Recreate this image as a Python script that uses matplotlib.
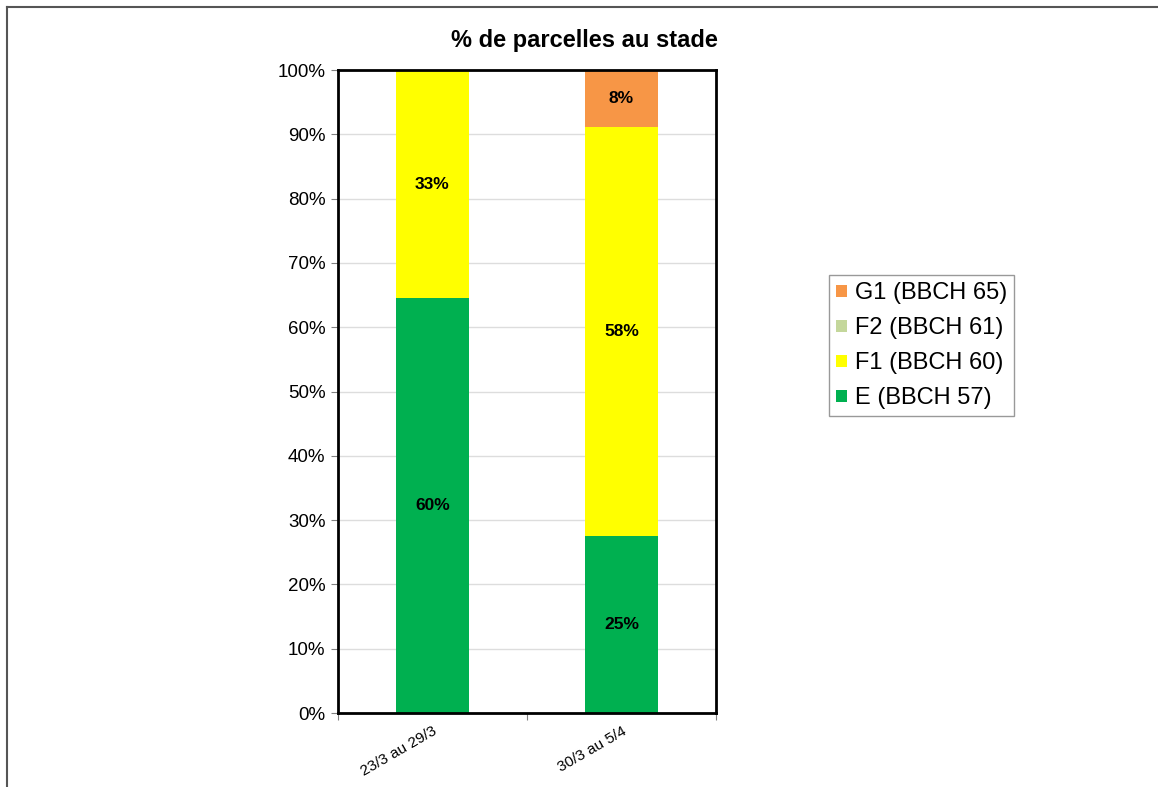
import matplotlib.pyplot as plt
import numpy as np
from matplotlib.lines import Line2D

plt.rcParams['font.family'] = ['Liberation Sans', 'DejaVu Sans']

periodes = ['23/3 au 29/3', '30/3 au 5/4']
stades = ['E (BBCH 57)', 'F1 (BBCH 60)', 'F2 (BBCH 61)', 'G1 (BBCH 65)']
couleurs = ['#00B050', '#FFFF00', '#C4D79B', '#F79646']
# valeurs affichees (%) par stade, pour chaque periode
val_E = [60, 25]
val_F1 = [33, 58]
val_F2 = [0, 0]
val_G1 = [0, 8]

valeurs = np.array([val_E, val_F1, val_F2, val_G1], dtype=float)
totaux = valeurs.sum(axis=0)
parts = valeurs / totaux * 100

fig = plt.figure(figsize=(11.58, 7.87), dpi=100)
ax = fig.add_axes([0.2919, 0.0940, 0.3264, 0.8170])

x = np.arange(len(periodes))
bas = np.zeros(len(periodes))
barres = []
for i in range(len(stades)):
    b = ax.bar(x, parts[i], 0.39, bottom=bas, color=couleurs[i], label=stades[i], zorder=2)
    barres.append(b)
    for j in range(len(periodes)):
        if valeurs[i][j] > 0:
            ax.text(x[j], bas[j] + parts[i][j] / 2, '%d%%' % valeurs[i][j],
                    ha='center', va='center', fontsize=12.5, fontweight='bold', zorder=3)
    bas += parts[i]

ax.set_xlim(-0.5, 1.5)
ax.set_ylim(0, 100)
ax.set_yticks(np.arange(0, 101, 10))
ax.set_yticklabels(['%d%%' % v for v in range(0, 101, 10)], fontsize=13.5)
ax.yaxis.grid(True, color='#DDDDDD', linewidth=1, zorder=0)
ax.set_axisbelow(True)

ax.set_xticks([-0.5, 0.5, 1.5])
ax.set_xticklabels([])
ax.set_xticks(x, minor=True)
ax.set_xticklabels(periodes, minor=True, rotation=30, ha='right',
                   rotation_mode='anchor', fontsize=11)
ax.tick_params(axis='x', which='minor', length=0, pad=8)
ax.tick_params(axis='x', which='major', length=5, color='#808080')
ax.tick_params(axis='y', length=5, color='#808080', pad=4)

for s in ax.spines.values():
    s.set_linewidth(2)
    s.set_color('black')

fig.text(584 / 1158, 1 - 40 / 787, '% de parcelles au stade', fontsize=17,
         fontweight='bold', ha='center', va='center')

handles = [barres[3], barres[2], barres[1], barres[0]]
leg = ax.legend(handles, [stades[3], stades[2], stades[1], stades[0]],
                loc='center left', bbox_to_anchor=(1.299, 0.571), fontsize=17,
                frameon=True, fancybox=False, edgecolor='#808080',
                handlelength=0.45, handleheight=0.45, handletextpad=0.35,
                labelspacing=0.55, borderpad=0.3, borderaxespad=0)
leg.get_frame().set_linewidth(1)

# cadre autour du graphique
fig.add_artist(Line2D([0.006, 1.0], [0.991, 0.991], color='#555555', linewidth=1.5))
fig.add_artist(Line2D([0.006, 0.006], [0.0, 0.991], color='#555555', linewidth=1.5))

fig.savefig('out.png', dpi=100)
